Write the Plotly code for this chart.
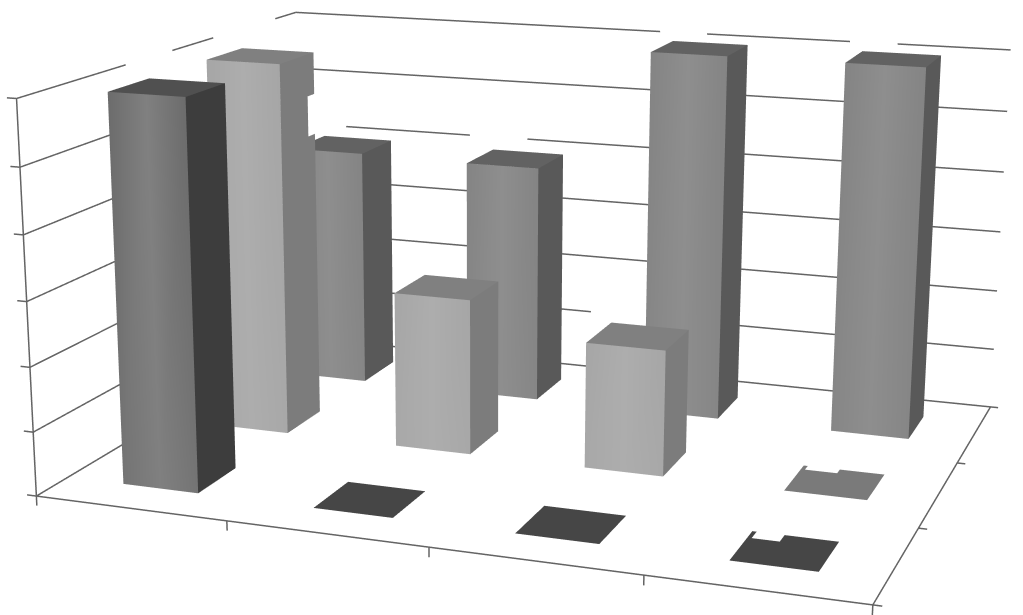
import plotly.graph_objects as go

# ---------- data ----------
categories = [0, 1, 2, 3]          # column positions along the front axis
depth_rows = [0, 1, 2]             # row positions, front to back
front_row = [6.0, 0, 0, 0]
middle_row = [6.0, 2.5, 2.0, 0]
back_row = [4.0, 3.97, 6.0, 6.0]
value_ticks = [0, 1, 2, 3, 4, 5, 6]
column_ticks = [0, 1, 2, 3, 4]
row_ticks = [0, 1, 2, 3]

# ---------- style ----------
BAR_LO, BAR_HI = 0.3, 0.7
X_MAX, Y_MAX, Z_MAX = 4, 3, 6
LINE = "#646464"
STYLES = {
    "front": dict(edge="#6c6c6c", mid="#808080", low="#747474", side="#3d3d3d", top="#505050", flat="#464646"),
    "middle": dict(edge="#a6a6a6", mid="#adadad", low="#a8a8a8", side="#7c7c7c", top="#808080", flat="#7a7a7a"),
    "back": dict(edge="#848484", mid="#8e8e8e", low="#868686", side="#595959", top="#626262", flat="#626262"),
}

# Visible stretches of the gridlines (the reference has gaps in them)
BACK_SPANS = {
    6: [(0, 2.14), (2.40, 3.17), (3.42, 4)],
    5: [(0, 4)],
    4: [(0.30, 1.05), (1.39, 4)],
    3: [(0, 4)],
    2: [(0, 4)],
    1: [(0, 1.77), (2.2, 4)],
    0: [(0, 4)],
}
LEFT_SPANS = {6: [(0, 1.02), (1.51, 1.97), (2.73, 3)]}
# Pieces missing from the reference's flat tiles: (column, row) -> x from, x to, y from
TILE_NOTCHES = {(3, 0): (3.32, 3.45, 0.61), (3, 1): (3.32, 3.48, 1.64)}
# Piece missing from a side face: (column, row) -> y from, z from, z to
SIDE_NOTCHES = {(0, 1): (1.62, 4.68, 5.33)}


def bar_mesh(col, row, value, style):
    x0, x1 = col + BAR_LO, col + BAR_HI
    y0, y1 = row + BAR_LO, row + BAR_HI
    xm = (x0 + x1) / 2
    vx, vy, vz, vc, i, j, k = [], [], [], [], [], [], []

    def quad(corners, colors):
        n = len(vx)
        for (a, b, c), col_ in zip(corners, colors):
            vx.append(a); vy.append(b); vz.append(c); vc.append(col_)
        i.extend([n, n]); j.extend([n + 1, n + 2]); k.extend([n + 2, n + 3])

    def side(ya, yb, za, zb):
        quad([(x1, ya, za), (x1, yb, za), (x1, yb, zb), (x1, ya, zb)], [style["side"]] * 4)

    def top(xa, xb, ya, yb, color):
        quad([(xa, ya, value), (xb, ya, value), (xb, yb, value), (xa, yb, value)], [color] * 4)

    if value > 0:
        quad([(x0, y0, 0), (xm, y0, 0), (xm, y0, value), (x0, y0, value)],
             [style["low"], style["mid"], style["mid"], style["edge"]])
        quad([(xm, y0, 0), (x1, y0, 0), (x1, y0, value), (xm, y0, value)],
             [style["mid"], style["low"], style["edge"], style["mid"]])
        notch = SIDE_NOTCHES.get((col, row))
        if notch:
            ya, za, zb = notch
            side(y0, y1, 0, za)
            side(y0, ya, za, zb)
            side(y0, y1, zb, value)
        else:
            side(y0, y1, 0, value)
        top(x0, x1, y0, y1, style["top"])
    else:
        color = style["flat"]
        notch = TILE_NOTCHES.get((col, row))
        if notch:
            xa, xb, ya = notch
            top(x0, xa, y0, y1, color)
            top(xa, xb, y0, ya, color)
            top(xb, x1, y0, y1, color)
        else:
            top(x0, x1, y0, y1, color)
    return go.Mesh3d(
        x=vx, y=vy, z=vz, i=i, j=j, k=k, vertexcolor=vc, flatshading=True,
        lighting=dict(ambient=1, diffuse=0, specular=0, roughness=1, fresnel=0),
        hoverinfo="skip", showscale=False,
    )


fig = go.Figure()
for name, values, row in (("back", back_row, 2), ("middle", middle_row, 1), ("front", front_row, 0)):
    for col, v in zip(categories, values):
        fig.add_trace(bar_mesh(col, row, v, STYLES[name]))

lx, ly, lz = [], [], []


def seg(a, b):
    lx.extend([a[0], b[0], None]); ly.extend([a[1], b[1], None]); lz.extend([a[2], b[2], None])


for z in value_ticks:
    for a, b in BACK_SPANS[z]:
        seg((a, Y_MAX, z), (b, Y_MAX, z))
    for a, b in LEFT_SPANS.get(z, [(0, Y_MAX)]):
        seg((0, a, z), (0, b, z))
    seg((0, 0, z), (-0.05, 0, z))
seg((0, 0, 0), (0, 0, Z_MAX))
seg((0, 0, 0), (X_MAX, 0, 0))
seg((X_MAX, 0, 0), (X_MAX, Y_MAX, 0))
for x in column_ticks:
    seg((x, 0, 0), (x, 0, -0.15))
for y in row_ticks:
    seg((X_MAX, y, 0), (X_MAX + 0.04, y, 0))
fig.add_trace(go.Scatter3d(x=lx, y=ly, z=lz, mode="lines", line=dict(color=LINE, width=3),
                           hoverinfo="skip", showlegend=False))

hidden = dict(visible=False, showgrid=False, zeroline=False, showticklabels=False,
              showbackground=False, showspikes=False, title="")
# Wider ranges than the box so the tick marks are not clipped; aspect follows the range.
AX, AY, AZ = 1.0, 0.7587, 0.4757
fig.update_layout(
    width=1086, height=2043,
    margin=dict(l=0, r=0, t=0, b=0),
    paper_bgcolor="white", showlegend=False,
    scene=dict(
        domain=dict(x=[0, 1], y=[0, 1]),
        bgcolor="white",
        xaxis=dict(hidden, range=[-1, 5]),
        yaxis=dict(hidden, range=[-1, 4]),
        zaxis=dict(hidden, range=[-1, 7]),
        aspectmode="manual",
        aspectratio=dict(x=AX * 6 / 4, y=AY * 5 / 3, z=AZ * 8 / 6),
        camera=dict(
            eye=dict(x=0.9603, y=-2.7883, z=0.7160),
            center=dict(x=-0.0283, y=-0.1339, z=-0.0512),
            up=dict(x=0, y=0, z=1),
            projection=dict(type="perspective"),
        ),
    ),
)
# The reference has a long-lens view; the scene's fixed field of view needs a
# larger canvas, placed so that the visible window shows the chart.
post = """
document.documentElement.style.overflow='hidden';
document.body.style.overflow='hidden';
var g=document.getElementById('{plot_id}');
g.style.position='fixed';g.style.left='-61px';g.style.top='-692px';
"""
fig.write_html("out.html", post_script=post, config=dict(displayModeBar=False))
